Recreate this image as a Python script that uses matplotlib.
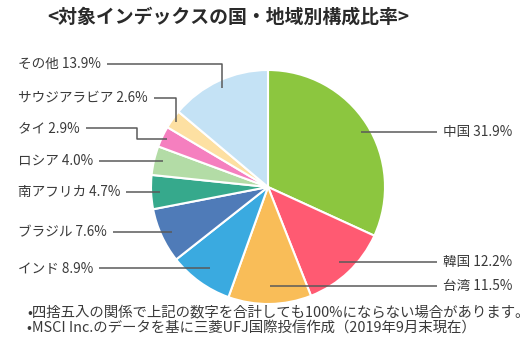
import numpy as np
import matplotlib
matplotlib.use("Agg")
import matplotlib.pyplot as plt

plt.rcParams['font.family'] = ['Noto Sans CJK JP', 'DejaVu Sans']

categories = ["中国", "韓国", "台湾", "インド", "ブラジル", "南アフリカ", "ロシア", "タイ", "サウジアラビア", "その他"]
values = [31.9, 12.2, 11.5, 8.9, 7.6, 4.7, 4.0, 2.9, 2.6, 13.9]
colors = ["#8cc63f", "#ff5a72", "#f9bd58", "#3aaae0", "#4f7bb8", "#36a98c",
          "#b3dca6", "#f57fbf", "#fde0a2", "#c4e2f5"]
title = "<対象インデックスの国・地域別構成比率>"
notes = ["•四捨五入の関係で上記の数字を合計しても100%にならない場合があります。",
         "•MSCI Inc.のデータを基に三菱UFJ国際投信作成（2019年9月末現在）"]

W, H = 531, 356
fig = plt.figure(figsize=(W / 100, H / 100), dpi=100)
ax = fig.add_axes([0, 0, 1, 1])

cx, cy, R = 268, H - 187, 117
wedges, _ = ax.pie(values, colors=colors, startangle=90, counterclock=False,
                   center=(cx, cy), radius=R,
                   wedgeprops=dict(edgecolor="white", linewidth=1.5))
ax.set_xlim(0, W)
ax.set_ylim(0, H)
ax.set_aspect('equal')
ax.axis('off')

# label layout: (side, text x, text y in px from top, radial fraction, elbow x or None)
layout = {
    "中国": ("R", 443, 132, 0.94, None),
    "韓国": ("R", 443, 262, 0.88, None),
    "台湾": ("R", 443, 286, 0.85, None),
    "インド": ("L", 18, 268, 0.85, None),
    "ブラジル": ("L", 18, 232, 0.90, None),
    "南アフリカ": ("L", 18, 192, 0.92, None),
    "ロシア": ("L", 18, 161, 0.92, None),
    "タイ": ("L", 18, 128, 0.96, 137),
    "サウジアラビア": ("L", 18, 98, 0.96, "pt"),
    "その他": ("L", 18, 64, 0.93, "pt"),
}

texts = []
for cat, val, w in zip(categories, values, wedges):
    side, tx, ty, frac, elbow = layout[cat]
    ang = np.deg2rad((w.theta1 + w.theta2) / 2)
    px = cx + frac * R * np.cos(ang)
    py = cy + frac * R * np.sin(ang)
    label = f"{cat} {val:.1f}%"
    t = ax.text(tx, H - ty, label, fontsize=9.8, color="#3a3a3a",
                ha="left", va="center")
    texts.append((t, side, tx, H - ty, px, py, elbow))

fig.canvas.draw()
renderer = fig.canvas.get_renderer()
for t, side, tx, ty, px, py, elbow in texts:
    bb = t.get_window_extent(renderer)
    if side == "R":
        xs = [px, tx - 6]
        ys = [ty, ty]
    else:
        start = bb.x1 + 6
        if elbow is None:
            xs = [start, px]
            ys = [ty, ty]
        elif elbow == "pt":
            xs = [start, px, px]
            ys = [ty, ty, py]
        else:
            xs = [start, elbow, elbow, px]
            ys = [ty, ty, py, py]
    ax.plot(xs, ys, color="#5a5a5a", linewidth=1.1, solid_capstyle="butt")

fig.text(47 / W, 1 - 17 / H, title, fontsize=13.6, fontweight="bold",
         color="#2a2a2a", ha="left", va="center")
fig.text(27 / W, 1 - 312 / H, notes[0], fontsize=10.4, color="#3a3a3a",
         ha="left", va="center")
fig.text(27 / W, 1 - 329 / H, notes[1], fontsize=10.4, color="#3a3a3a",
         ha="left", va="center")

fig.savefig("out.png", dpi=100, facecolor="white")
